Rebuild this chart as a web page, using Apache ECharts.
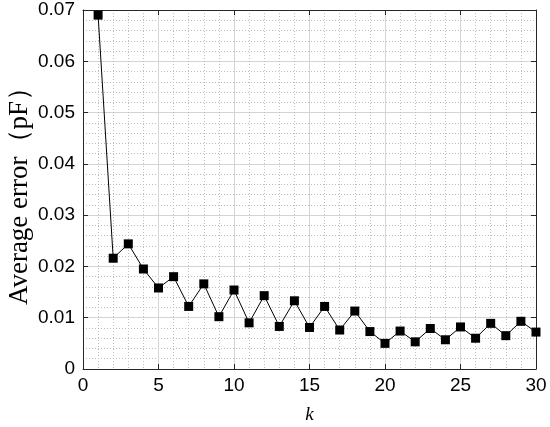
<!DOCTYPE html>
<html>
<head>
<meta charset="utf-8">
<script src="https://cdn.jsdelivr.net/npm/echarts@6/dist/echarts.min.js"></script>
<style>html,body{margin:0;padding:0;background:#fff}#c{width:550px;height:427px}</style>
</head>
<body>
<div id="c"></div>
<script>
var kValues = [1,2,3,4,5,6,7,8,9,10,11,12,13,14,15,16,17,18,19,20,21,22,23,24,25,26,27,28,29,30];
var avgError = [0.0690,0.0216,0.0244,0.0195,0.0158,0.0180,0.0122,0.0166,0.0102,0.0154,
                0.0090,0.0143,0.0083,0.0133,0.0081,0.0122,0.0076,0.0113,0.0073,0.0050,
                0.0074,0.0053,0.0079,0.0057,0.0082,0.0060,0.0089,0.0065,0.0093,0.0072];
var xTicks = [0,5,10,15,20,25,30];
var yTicks = [0,0.01,0.02,0.03,0.04,0.05,0.06,0.07];
var xName = 'k';
var yName = 'Average error（pF）';

var chart = echarts.init(document.getElementById('c'), null, {renderer:'canvas'});
var axisCol = '#262626';
var labelFont = {color:'#000', fontFamily:'Liberation Sans, Arial', fontSize:19};
var pts = kValues.map(function(k,i){return [k, avgError[i]];});
function fmtY(v){ return v === 0 ? '0' : v.toFixed(2); }
chart.setOption({
  animation:false,
  grid:{left:83, top:10, right:14, bottom:58, containLabel:false, outerBoundsMode:'none'},
  xAxis:[{
    type:'value', min:xTicks[0], max:xTicks[xTicks.length-1], interval:5,
    name:xName, nameLocation:'middle', nameGap:36, nameMoveOverlap:false,
    nameTextStyle:{fontFamily:'Liberation Serif, Times New Roman', fontStyle:'italic', fontSize:19, color:'#000'},
    axisLine:{show:true, onZero:false, lineStyle:{color:axisCol, width:1}},
    axisTick:{show:true, inside:true, length:5, lineStyle:{color:axisCol}},
    axisLabel:Object.assign({margin:7}, labelFont),
    splitLine:{show:true, lineStyle:{color:'#d4d4d4', width:1}},
    minorTick:{show:false, splitNumber:5},
    minorSplitLine:{show:true, lineStyle:{color:'#bdbdbd', width:1, type:[1,2]}}
  },{
    type:'value', position:'top', min:xTicks[0], max:xTicks[xTicks.length-1], interval:5,
    axisLine:{show:true, onZero:false, lineStyle:{color:axisCol, width:1}},
    axisTick:{show:true, inside:true, length:5, lineStyle:{color:axisCol}},
    axisLabel:{show:false}, splitLine:{show:false}
  }],
  yAxis:[{
    type:'value', min:yTicks[0], max:yTicks[yTicks.length-1], interval:0.01,
    name:yName, nameLocation:'middle', nameGap:50, nameMoveOverlap:false,
    nameTextStyle:{fontFamily:'Liberation Serif, Times New Roman', fontSize:27, color:'#000'},
    axisLine:{show:true, onZero:false, lineStyle:{color:axisCol, width:1}},
    axisTick:{show:true, inside:true, length:5, lineStyle:{color:axisCol}},
    axisLabel:Object.assign({margin:8, formatter:fmtY}, labelFont),
    splitLine:{show:true, lineStyle:{color:'#d4d4d4', width:1}},
    minorTick:{show:false, splitNumber:5},
    minorSplitLine:{show:true, lineStyle:{color:'#bdbdbd', width:1, type:[1,2]}}
  },{
    type:'value', position:'right', min:yTicks[0], max:yTicks[yTicks.length-1], interval:0.01,
    axisLine:{show:true, onZero:false, lineStyle:{color:axisCol, width:1}},
    axisTick:{show:true, inside:true, length:5, lineStyle:{color:axisCol}},
    axisLabel:{show:false}, splitLine:{show:false}
  }],
  series:[{
    type:'line', data:pts, xAxisIndex:0, yAxisIndex:0,
    symbol:'rect', symbolSize:9, showAllSymbol:true,
    lineStyle:{color:'#000', width:1},
    itemStyle:{color:'#000'},
    clip:false
  }]
});
</script>
</body>
</html>
